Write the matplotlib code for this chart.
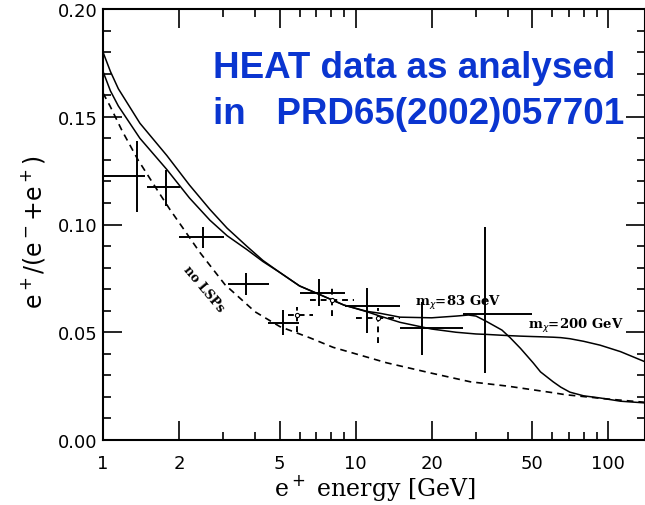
import matplotlib

matplotlib.use("Agg")
import matplotlib.pyplot as plt
import numpy as np
from matplotlib.ticker import FixedLocator, NullFormatter

# positron fraction model curves
E_curve = [1.0, 1.07, 1.15, 1.4, 1.79, 2.2, 2.65, 3.1, 3.72, 4.3, 5.02, 6.0,
           7.24, 9.0, 11.1, 12.5, 15.0, 20.0, 25.0, 28.0, 30.0, 33.0, 38.0,
           41.0, 45.0, 50.5, 54.0, 60.6, 65.0, 70.6, 80.0, 93.0, 112.0, 140.0]
R_200 = [0.180, 0.171, 0.163, 0.147, 0.132, 0.1183, 0.107, 0.0983, 0.0898,
         0.0833, 0.0777, 0.0715, 0.0674, 0.0626, 0.0595, 0.0575, 0.0546,
         0.0515, 0.0500, 0.0495, 0.0492, 0.0490, 0.0486, 0.0484, 0.0482,
         0.0480, 0.0479, 0.0477, 0.0475, 0.0470, 0.0458, 0.0440, 0.0410,
         0.0363]
R_83 = [0.171, 0.162, 0.155, 0.140, 0.1255, 0.1123, 0.102, 0.0948, 0.0883,
        0.0828, 0.0777, 0.0715, 0.0674, 0.0626, 0.0597, 0.0588, 0.057,
        0.0567, 0.0575, 0.058, 0.0575, 0.055, 0.051, 0.0474, 0.0425, 0.0358,
        0.0316, 0.027, 0.0245, 0.0222, 0.0205, 0.0195, 0.018, 0.0172]

# background (no LSP annihilation)
E_bg = [1.0, 1.066, 1.19, 1.376, 1.64, 1.84, 2.06, 2.42, 3.04, 4.0, 5.02,
        6.6, 8.15, 10.0, 13.3, 20.0, 28.5, 40.0, 60.0, 68.0, 100.0, 140.0]
R_bg = [0.161, 0.155, 0.1435, 0.130, 0.116, 0.107, 0.0988, 0.087, 0.0721,
        0.0595, 0.0526, 0.0474, 0.043, 0.040, 0.0358, 0.031, 0.027, 0.025,
        0.022, 0.021, 0.019, 0.0175]

# HEAT points, solid crosses: centre, x range, y range
E_heat = [1.364, 1.776, 2.49, 3.69, 5.17, 7.18, 11.1, 18.4, 32.7]
E_heat_lo = [1.0, 1.49, 2.0, 3.12, 4.5, 6.0, 9.1, 15.0, 26.6]
E_heat_hi = [1.47, 2.02, 3.02, 4.54, 5.98, 9.1, 15.0, 26.6, 50.1]
R_heat = [0.1223, 0.1172, 0.0944, 0.0726, 0.0544, 0.0684, 0.0623, 0.052, 0.0586]
R_heat_lo = [0.106, 0.1084, 0.0893, 0.0674, 0.0488, 0.0623, 0.0498, 0.0395, 0.031]
R_heat_hi = [0.1386, 0.1251, 0.099, 0.0777, 0.0605, 0.0749, 0.0707, 0.0642, 0.099]

# second HEAT set, dashed crosses
E_heat2 = [5.87, 8.07, 12.3]
E_heat2_lo = [5.4, 6.6, 10.0]
E_heat2_hi = [6.8, 9.9, 15.0]
R_heat2 = [0.0580, 0.0650, 0.0565]
R_heat2_lo = [0.0502, 0.0577, 0.0451]
R_heat2_hi = [0.0619, 0.0716, 0.0614]

x_major = [1, 2, 5, 10, 20, 50, 100]
x_minor = [3, 4, 6, 7, 8, 9, 30, 40, 60, 70, 80, 90]


def main():
    fig = plt.figure(figsize=(6.45, 5.06), dpi=100)
    ax = fig.add_axes([103 / 645, 1 - 441 / 506, 542 / 645, 431 / 506])

    ax.plot(E_curve, R_200, color="black", lw=1.1)
    ax.plot(E_curve, R_83, color="black", lw=1.1)
    ax.plot(E_bg, R_bg, color="black", lw=1.2, linestyle=(0, (4, 3)))

    ax.hlines(R_heat, E_heat_lo, E_heat_hi, color="black", lw=1.4)
    ax.vlines(E_heat, R_heat_lo, R_heat_hi, color="black", lw=1.4)
    ax.hlines(R_heat2, E_heat2_lo, E_heat2_hi, color="black", lw=1.4,
              linestyles=(0, (3, 2.5)))
    ax.vlines(E_heat2, R_heat2_lo, R_heat2_hi, color="black", lw=1.4,
              linestyles=(0, (3, 2.5)))
    ax.plot(E_heat2, R_heat2, "o", ms=3, mfc="white", mec="black", mew=0.8)

    ax.text(17.2, 0.0628, r"m$_\chi$=83 GeV", family="DejaVu Serif",
            fontsize=9.5, fontweight="bold", ha="left", va="baseline")
    ax.text(48.3, 0.0520, r"m$_\chi$=200 GeV", family="DejaVu Serif",
            fontsize=9.5, fontweight="bold", ha="left", va="baseline")
    ax.text(2.51, 0.0702, "no LSPs", family="DejaVu Serif", fontsize=9,
            fontweight="bold", rotation=-50, ha="center", va="center")

    ax.set_xscale("log")
    ax.set_xlim(1, 140)
    ax.set_ylim(0, 0.20)
    ax.xaxis.set_major_locator(FixedLocator(x_major))
    ax.xaxis.set_minor_locator(FixedLocator(x_minor))
    ax.xaxis.set_minor_formatter(NullFormatter())
    ax.set_xticklabels([str(v) for v in x_major])
    ax.set_yticks(np.arange(0, 0.201, 0.05))
    ax.set_yticks(np.arange(0, 0.201, 0.01), minor=True)
    ax.set_yticklabels(["0.00", "0.05", "0.10", "0.15", "0.20"])

    ax.tick_params(which="both", direction="in", top=True, right=True,
                   width=1.2, labelsize=13)
    ax.tick_params(which="major", length=13.5)
    ax.tick_params(which="minor", length=5.5)
    ax.tick_params(axis="x", pad=10)
    ax.tick_params(axis="y", pad=4)
    for s in ax.spines.values():
        s.set_linewidth(1.5)

    fig.text(375 / 645, 1 - 488 / 506, r"e$^+$ energy [GeV]",
             family="DejaVu Serif", fontsize=17, ha="center", va="center")
    fig.text(33 / 645, 1 - 232 / 506, r"e$^+$/(e$^-$+e$^+$)", fontsize=17,
             rotation=90, ha="center", va="center")

    blue = "#0a35d0"
    fig.text(213 / 645, 1 - 78 / 506, "HEAT data as analysed", color=blue,
             family="Liberation Sans", fontweight="bold", fontsize=26.5,
             ha="left", va="baseline")
    fig.text(213 / 645, 1 - 124 / 506, "in   PRD65(2002)057701", color=blue,
             family="Liberation Sans", fontweight="bold", fontsize=26.5,
             ha="left", va="baseline")

    fig.savefig("out.png", dpi=100)
    plt.close(fig)


if __name__ == "__main__":
    main()
